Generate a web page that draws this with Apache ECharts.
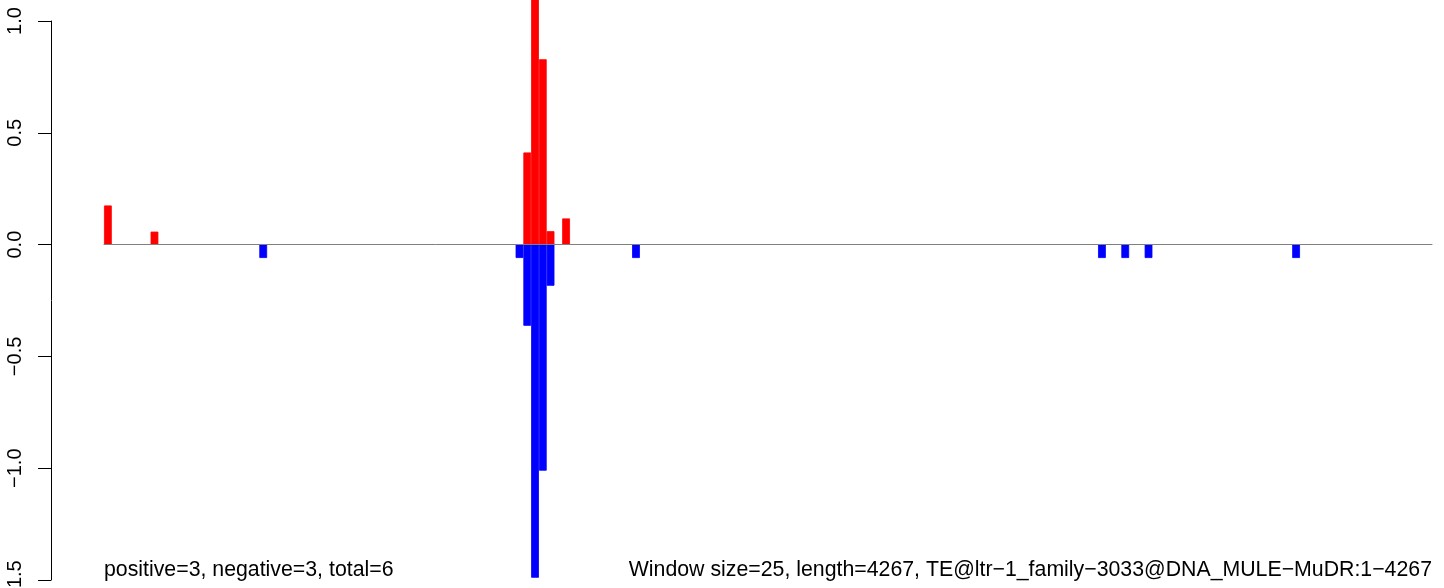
<!DOCTYPE html>
<html>
<head>
<meta charset="utf-8">
<script src="https://cdn.jsdelivr.net/npm/echarts@6/dist/echarts.min.js"></script>
<style>
html,body{margin:0;padding:0;background:#fff;}
#c{width:1444px;height:588px;}
</style>
</head>
<body>
<div id="c"></div>
<script>
// Number of 25-bp windows along length 4267
const windowCount = 171;
// Positive (red) bars: window index and value
const posWindows = [0, 6, 54, 55, 56, 57, 59];
const posValues  = [0.175, 0.058, 0.412, 1.2, 0.829, 0.06, 0.117];
// Negative (blue) bars: window index and value
const negWindows = [20, 53, 54, 55, 56, 57, 68, 128, 131, 134, 153];
const negValues  = [-0.06, -0.06, -0.363, -1.49, -1.011, -0.184, -0.06, -0.06, -0.06, -0.06, -0.06];
// Y axis ticks
const yTicks = [-1.5, -1.0, -0.5, 0.0, 0.5, 1.0];
const leftText = 'positive=3, negative=3, total=6';
const rightText = 'Window size=25, length=4267, TE@ltr\u22121_family\u22123033@DNA_MULE\u2212MuDR:1\u22124267';

const categories = [];
for (let i = 0; i < windowCount; i++) categories.push(String(i + 1));
const posData = new Array(windowCount).fill(null);
posWindows.forEach((w, k) => { posData[w] = posValues[k]; });
const negData = new Array(windowCount).fill(null);
negWindows.forEach((w, k) => { negData[w] = negValues[k]; });

const FONT = '"Liberation Sans", Arial, sans-serif';
const chart = echarts.init(document.getElementById('c'), null, {renderer: 'canvas'});
chart.setOption({
  animation: false,
  backgroundColor: '#ffffff',
  grid: {left: 104, right: 12, top: 21, bottom: 8, containLabel: false, outerBoundsMode: 'none'},
  xAxis: {
    type: 'category',
    data: categories,
    boundaryGap: true,
    axisLine: {show: true, onZero: true, lineStyle: {color: '#808080', width: 1}},
    axisTick: {show: false},
    axisLabel: {show: false},
    splitLine: {show: false},
    z: 5
  },
  yAxis: {
    type: 'value',
    min: yTicks[0],
    max: yTicks[yTicks.length - 1],
    interval: 0.5,
    offset: 53,
    axisLine: {show: true, lineStyle: {color: '#000', width: 1}},
    axisTick: {show: true, length: 13, lineStyle: {color: '#000', width: 1}},
    axisLabel: {
      show: true, rotate: 90, margin: 26,
      fontFamily: FONT, fontSize: 20, color: '#000',
      hideOverlap: false,
      formatter: v => v.toFixed(1).replace('-', '\u2212')
    },
    splitLine: {show: false}
  },
  series: [
    {type: 'bar', data: posData, barWidth: '100%', barGap: '-100%', clip: false,
     itemStyle: {color: '#ff0000', borderColor: '#ff0000', borderWidth: 0.8}, z: 2},
    {type: 'bar', data: negData, barWidth: '100%', barGap: '-100%', clip: false,
     itemStyle: {color: '#0000ff', borderColor: '#0000ff', borderWidth: 0.8}, z: 3}
  ],
  graphic: [
    {type: 'text', left: 104, top: 560, style: {text: leftText, font: '21.3px ' + FONT, fill: '#000'}},
    {type: 'text', right: 12, top: 560, style: {text: rightText, font: '21.3px ' + FONT, fill: '#000'}}
  ]
});
</script>
</body>
</html>
